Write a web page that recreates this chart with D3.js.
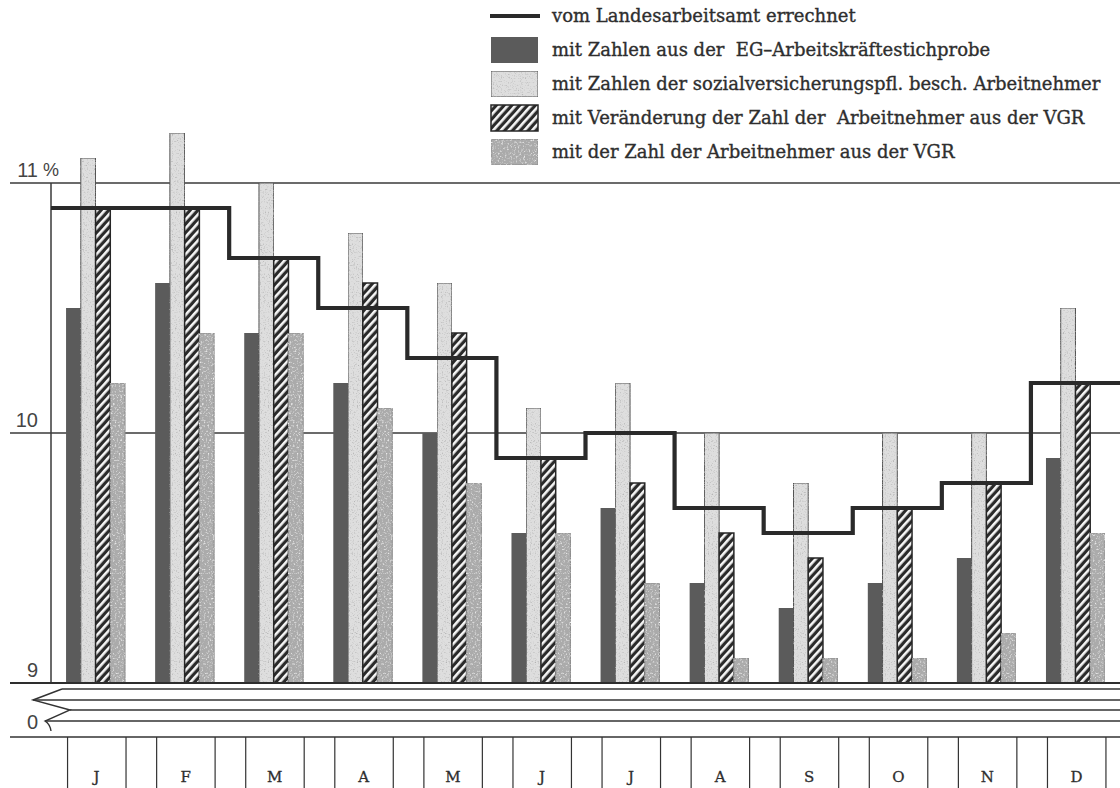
<!DOCTYPE html>
<html>
<head>
<meta charset="utf-8">
<script src="https://cdn.jsdelivr.net/npm/d3@7"></script>
<style>
  html, body { margin: 0; padding: 0; background: #fff; }
  svg { display: block; }
</style>
</head>
<body>
<svg id="chart" width="1120" height="788"></svg>
<script>
// Arbeitslosenquote je Monat, nach Berechnungsart (in %)
const months = ["J", "F", "M", "A", "M", "J", "J", "A", "S", "O", "N", "D"];
const landesarbeitsamt = [10.9, 10.9, 10.7, 10.5, 10.3, 9.9, 10.0, 9.7, 9.6, 9.7, 9.8, 10.2];
const egStichprobe     = [10.5, 10.6, 10.4, 10.2, 10.0, 9.6, 9.7, 9.4, 9.3, 9.4, 9.5, 9.9];
const svBeschaeftigte  = [11.1, 11.2, 11.0, 10.8, 10.6, 10.1, 10.2, 10.0, 9.8, 10.0, 10.0, 10.5];
const vgrVeraenderung  = [10.9, 10.9, 10.7, 10.6, 10.4, 9.9, 9.8, 9.6, 9.5, 9.7, 9.8, 10.2];
const vgrZahl          = [10.2, 10.4, 10.4, 10.1, 9.8, 9.6, 9.4, 9.1, 9.1, 9.1, 9.2, 9.6];
const yTicks = [9, 10, 11];
const legendLabels = [
  "vom Landesarbeitsamt errechnet",
  "mit Zahlen aus der  EG\u2013Arbeitskr\u00e4ftestichprobe",
  "mit Zahlen der sozialversicherungspfl. besch. Arbeitnehmer",
  "mit Ver\u00e4nderung der Zahl der  Arbeitnehmer aus der VGR",
  "mit der Zahl der Arbeitnehmer aus der VGR"
];

const barSeries = [
  { key: "eg", values: egStichprobe },
  { key: "sv", values: svBeschaeftigte },
  { key: "vgrV", values: vgrVeraenderung },
  { key: "vgrZ", values: vgrZahl }
];

// fill styles per bar series
const barStyle = {
  eg:   { fill: "#5b5b5b", stroke: "none", sw: 0, filter: null },
  sv:   { fill: "#dedede", stroke: "#505050", sw: 1, filter: "url(#grainLight)" },
  vgrV: { fill: "url(#hatch)", stroke: "#262626", sw: 1.5, filter: null },
  vgrZ: { fill: "#ababab", stroke: "#8a8a8a", sw: 1, filter: "url(#grainMottle)" }
};

const svg = d3.select("#chart");
const W = 1120;

// ---- defs: textures ----
const defs = svg.append("defs");
const hatch = defs.append("pattern")
  .attr("id", "hatch").attr("patternUnits", "userSpaceOnUse")
  .attr("width", 5.8).attr("height", 5.8)
  .attr("patternTransform", "rotate(42)");
hatch.append("rect").attr("width", 5.8).attr("height", 5.8).attr("fill", "#2a2a2a");
hatch.append("rect").attr("x", 0).attr("width", 2.6).attr("height", 5.8).attr("fill", "#f6f6f6");

const gl = defs.append("filter").attr("id", "grainLight")
  .attr("x", 0).attr("y", 0).attr("width", 1).attr("height", 1);
gl.append("feTurbulence").attr("type", "fractalNoise").attr("baseFrequency", 0.75)
  .attr("numOctaves", 2).attr("seed", 4).attr("result", "n");
gl.append("feColorMatrix").attr("in", "n").attr("type", "matrix")
  .attr("values", "0 0 0 0 0.45  0 0 0 0 0.45  0 0 0 0 0.45  3 0 0 0 -1.6").attr("result", "dots");
gl.append("feComposite").attr("in", "dots").attr("in2", "SourceGraphic").attr("operator", "in").attr("result", "d2");
const glm = gl.append("feMerge");
glm.append("feMergeNode").attr("in", "SourceGraphic");
glm.append("feMergeNode").attr("in", "d2");

const gm = defs.append("filter").attr("id", "grainMottle")
  .attr("x", 0).attr("y", 0).attr("width", 1).attr("height", 1);
gm.append("feTurbulence").attr("type", "fractalNoise").attr("baseFrequency", 0.55)
  .attr("numOctaves", 2).attr("seed", 9).attr("result", "n");
gm.append("feColorMatrix").attr("in", "n").attr("type", "matrix")
  .attr("values", "0 0 0 0 0.4  0 0 0 0 0.4  0 0 0 0 0.4  3 0 0 0 -1.55").attr("result", "darkDots");
gm.append("feColorMatrix").attr("in", "n").attr("type", "matrix")
  .attr("values", "0 0 0 0 0.88  0 0 0 0 0.88  0 0 0 0 0.88  0 3 0 0 -1.6").attr("result", "lightDots");
gm.append("feComposite").attr("in", "darkDots").attr("in2", "SourceGraphic").attr("operator", "in").attr("result", "dd");
gm.append("feComposite").attr("in", "lightDots").attr("in2", "SourceGraphic").attr("operator", "in").attr("result", "ld");
const gmm = gm.append("feMerge");
gmm.append("feMergeNode").attr("in", "SourceGraphic");
gmm.append("feMergeNode").attr("in", "ld");
gmm.append("feMergeNode").attr("in", "dd");

// ---- scales ----
const x = d3.scaleBand().domain(d3.range(months.length))
  .range([51, 1120]).paddingInner(0.338).paddingOuter(0.169);
const xs = d3.scaleBand().domain(barSeries.map(s => s.key)).range([0, x.bandwidth()]);
const y = d3.scaleLinear().domain([9, 11]).range([683, 183]);
const halfGap = x.step() * x.paddingInner() / 2;

const ink = "#2e2e2e";

// ---- gridlines & axis ----
svg.append("g").selectAll("line").data(yTicks.filter(t => t > 9)).join("line")
  .attr("x1", 10).attr("x2", W).attr("y1", d => y(d)).attr("y2", d => y(d))
  .attr("stroke", "#3a3a3a").attr("stroke-width", 1.3);

svg.append("line").attr("x1", 51).attr("x2", 51).attr("y1", y(11)).attr("y2", y(9))
  .attr("stroke", "#3a3a3a").attr("stroke-width", 1.5);

// tick labels
const labelFont = "'Liberation Sans', Arial, sans-serif";
svg.append("g").selectAll("text").data(yTicks).join("text")
  .attr("x", 38).attr("y", d => y(d) - 6)
  .attr("text-anchor", "end")
  .attr("font-family", labelFont).attr("font-size", 20).attr("fill", "#444")
  .text(d => d);
svg.append("text").attr("x", 43).attr("y", y(11) - 7)
  .attr("font-family", labelFont).attr("font-size", 18).attr("fill", "#444").text("%");

// ---- bars ----
const groups = svg.append("g").selectAll("g").data(months).join("g")
  .attr("transform", (d, i) => `translate(${x(i)},0)`);
barSeries.forEach(s => {
  const st = barStyle[s.key];
  groups.append("rect")
    .attr("x", xs(s.key))
    .attr("width", xs.bandwidth())
    .attr("y", (d, i) => y(s.values[i]))
    .attr("height", (d, i) => y(9) - y(s.values[i]))
    .attr("fill", st.fill)
    .attr("stroke", st.stroke)
    .attr("stroke-width", st.sw)
    .attr("filter", st.filter);
});

// ---- step line (Landesarbeitsamt) ----
const stepPts = landesarbeitsamt.map((v, i) => [x(i) - halfGap, y(v)]);
stepPts.push([x.range()[1], y(landesarbeitsamt[landesarbeitsamt.length - 1])]);
svg.append("path")
  .attr("d", d3.line().curve(d3.curveStepAfter)(stepPts))
  .attr("fill", "none").attr("stroke", "#2a2a2a").attr("stroke-width", 4.2);

// ---- baseline and broken axis down to zero ----
const y0 = y(9);
svg.append("line").attr("x1", 10).attr("x2", W).attr("y1", y0).attr("y2", y0)
  .attr("stroke", "#2e2e2e").attr("stroke-width", 2);
const breakLines = [
  { dy: 6, from: 62 }, { dy: 17, from: 33 }, { dy: 27, from: 70 },
  { dy: 38, from: 45 }, { dy: 54, from: 10 }
];
svg.append("g").selectAll("line").data(breakLines).join("line")
  .attr("x1", d => d.from).attr("x2", W)
  .attr("y1", d => y0 + d.dy).attr("y2", d => y0 + d.dy)
  .attr("stroke", "#333").attr("stroke-width", d => d.dy === 54 ? 1.6 : 1.3);
svg.append("path")
  .attr("d", `M62,${y0 + 6} L33,${y0 + 17} L70,${y0 + 27} L45,${y0 + 38} Q50,${y0 + 41} 51,${y0 + 48}`)
  .attr("fill", "none").attr("stroke", "#333").attr("stroke-width", 1.4);
svg.append("text").attr("x", 38).attr("y", y0 + 46).attr("text-anchor", "end")
  .attr("font-family", labelFont).attr("font-size", 20).attr("fill", "#444").text("0");

// ---- month axis ----
const xAxisTop = y0 + 54;
const seps = [];
months.forEach((m, i) => { seps.push(x(i) + 1.5); seps.push(x(i) + x.bandwidth() + 1); });
svg.append("g").selectAll("line").data(seps).join("line")
  .attr("x1", d => d).attr("x2", d => d).attr("y1", xAxisTop).attr("y2", 788)
  .attr("stroke", "#333").attr("stroke-width", 1.2);
const serif = "'DejaVu Serif', 'Liberation Serif', serif";
svg.append("g").selectAll("text").data(months).join("text")
  .attr("x", (d, i) => x(i) + x.bandwidth() / 2 + 1)
  .attr("y", 782)
  .attr("text-anchor", "middle")
  .attr("font-family", serif).attr("font-size", 15).attr("fill", ink)
  .attr("stroke", ink).attr("stroke-width", 0.3)
  .text(d => d);

// ---- legend ----
const legend = svg.append("g");
const rowY = d3.scaleLinear().domain([0, 1]).range([16, 50]);
const legendKeys = ["line", "eg", "sv", "vgrV", "vgrZ"];
legendKeys.forEach((k, i) => {
  const cy = rowY(i);
  if (k === "line") {
    legend.append("line").attr("x1", 490).attr("x2", 540).attr("y1", cy).attr("y2", cy)
      .attr("stroke", "#2a2a2a").attr("stroke-width", 4);
  } else {
    const st = barStyle[k];
    legend.append("rect").attr("x", 491).attr("y", cy - 13).attr("width", 47).attr("height", 26)
      .attr("fill", st.fill).attr("stroke", st.stroke).attr("stroke-width", st.sw)
      .attr("filter", st.filter);
  }
  legend.append("text").attr("x", 552).attr("y", cy + 6)
    .attr("font-family", serif).attr("font-size", 18).attr("fill", ink)
    .attr("stroke", ink).attr("stroke-width", 0.35)
    .attr("xml:space", "preserve")
    .text(legendLabels[i]);
});
</script>
</body>
</html>
